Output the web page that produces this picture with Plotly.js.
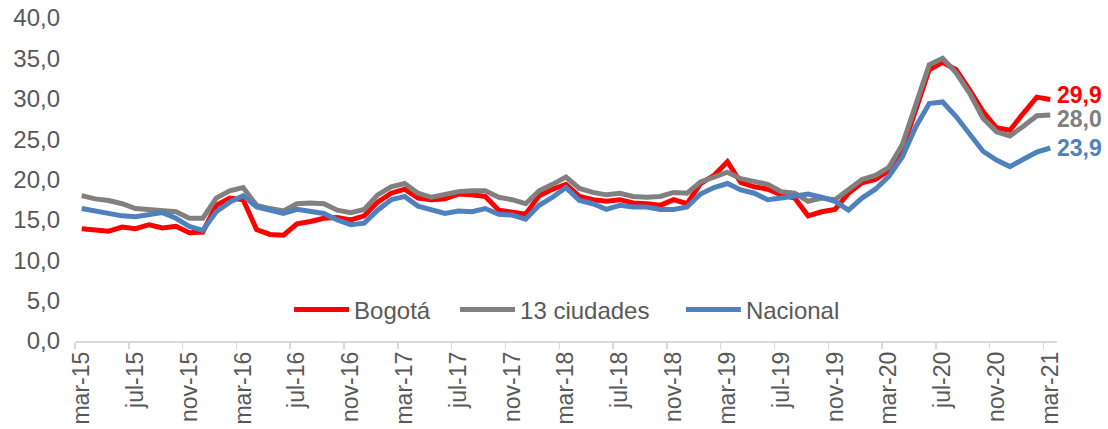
<!DOCTYPE html>
<html>
<head>
<meta charset="utf-8">
<script src="https://cdn.plot.ly/plotly-3.0.1.min.js"></script>
<style>html,body{margin:0;padding:0;background:#fff;}#chart{width:1108px;height:429px;}</style>
</head>
<body>
<div id="chart"></div>
<script>
const months = [
 "mar-15","abr-15","may-15","jun-15","jul-15","ago-15","sep-15","oct-15","nov-15","dic-15",
 "ene-16","feb-16","mar-16","abr-16","may-16","jun-16","jul-16","ago-16","sep-16","oct-16","nov-16","dic-16",
 "ene-17","feb-17","mar-17","abr-17","may-17","jun-17","jul-17","ago-17","sep-17","oct-17","nov-17","dic-17",
 "ene-18","feb-18","mar-18","abr-18","may-18","jun-18","jul-18","ago-18","sep-18","oct-18","nov-18","dic-18",
 "ene-19","feb-19","mar-19","abr-19","may-19","jun-19","jul-19","ago-19","sep-19","oct-19","nov-19","dic-19",
 "ene-20","feb-20","mar-20","abr-20","may-20","jun-20","jul-20","ago-20","sep-20","oct-20","nov-20","dic-20",
 "ene-21","feb-21","mar-21"
];

const bogota = [
 13.9,13.7,13.6,14.1,13.9,14.4,14.0,14.2,13.4,13.5,
 16.8,17.7,17.5,13.8,13.2,13.1,14.5,14.8,15.2,15.3,15.0,15.5,
 17.2,18.3,18.8,17.7,17.5,17.6,18.2,18.1,17.9,16.2,16.0,15.7,
 18.0,18.8,19.4,17.9,17.5,17.3,17.5,17.1,17.0,16.8,17.5,17.0,
 19.5,20.5,22.2,19.6,19.1,18.8,18.1,17.7,15.5,16.0,16.3,18.3,
 19.6,20.0,21.1,23.7,28.6,33.6,34.5,33.6,31.1,28.4,26.4,26.1,
 28.2,30.2,29.9
];

const ciudades13 = [
 18.0,17.6,17.4,17.0,16.4,16.3,16.1,16.0,15.2,15.2,
 17.7,18.6,19.0,16.8,16.4,16.1,17.0,17.1,17.0,16.2,15.9,16.3,
 18.1,19.1,19.5,18.3,17.8,18.1,18.5,18.6,18.6,17.8,17.5,17.0,
 18.6,19.4,20.3,18.9,18.4,18.1,18.3,17.9,17.8,17.9,18.4,18.3,
 19.7,20.3,20.9,20.1,19.7,19.4,18.5,18.3,17.3,17.7,17.5,18.7,
 20.0,20.5,21.5,24.3,29.2,34.2,35.0,33.2,30.7,27.6,25.9,25.4,
 26.6,27.9,28.0
];

const nacional = [
 16.4,16.1,15.8,15.5,15.4,15.6,15.9,15.2,14.2,13.7,
 16.0,17.2,18.0,16.6,16.2,15.8,16.3,16.1,15.8,15.0,14.4,14.6,
 16.2,17.5,17.9,16.7,16.2,15.8,16.1,16.0,16.4,15.7,15.6,15.1,
 16.8,17.8,19.0,17.4,17.0,16.3,16.8,16.6,16.6,16.3,16.3,16.6,
 18.2,19.0,19.5,18.7,18.3,17.5,17.7,17.9,18.2,17.8,17.3,16.2,
 17.7,18.8,20.4,22.8,26.5,29.4,29.6,27.8,25.7,23.5,22.4,21.6,
 22.5,23.4,23.9
];

const seriesNames = ["Bogotá", "13 ciudades", "Nacional"];
const seriesColors = ["#FF0000", "#808080", "#4F81BD"];
const seriesData = [bogota, ciudades13, nacional];
const legendIds = ["legend", "legend2", "legend3"];
const legendX = [0.218, 0.387, 0.617];
const labelShift = [5, -4, 0];

const FONT = "Liberation Sans, Arial, sans-serif";
const TEXT = "#595959";

const traces = seriesData.map((d, k) => ({
  type: "scatter",
  mode: "lines",
  name: seriesNames[k],
  legend: legendIds[k],
  x: months,
  y: d,
  line: {color: seriesColors[k], width: 5},
  hoverinfo: "skip"
}));

const annotations = seriesData.map((d, k) => ({
  x: months[months.length - 1],
  y: d[d.length - 1],
  xref: "x", yref: "y",
  text: "<b>" + d[d.length - 1].toFixed(1).replace(".", ",") + "</b>",
  showarrow: false,
  xanchor: "left",
  yanchor: "middle",
  xshift: 5,
  yshift: labelShift[k],
  font: {family: FONT, size: 23, color: seriesColors[k]}
}));

const legendBase = {
  orientation: "h",
  xanchor: "left",
  y: 0.096, yanchor: "middle",
  font: {family: FONT, size: 24, color: TEXT},
  bgcolor: "rgba(0,0,0,0)",
  itemwidth: 55
};

const layout = {
  width: 1108,
  height: 429,
  margin: {l: 75, r: 51, t: 18, b: 88},
  paper_bgcolor: "#ffffff",
  plot_bgcolor: "#ffffff",
  separators: ",.",
  showlegend: true,
  legend: Object.assign({}, legendBase, {x: legendX[0]}),
  legend2: Object.assign({}, legendBase, {x: legendX[1]}),
  legend3: Object.assign({}, legendBase, {x: legendX[2]}),
  xaxis: {
    type: "category",
    range: [-0.5, months.length - 0.5],
    dtick: 4,
    tickson: "boundaries",
    ticks: "outside",
    ticklen: 6,
    tickcolor: "#D9D9D9",
    tickwidth: 1.5,
    showline: true,
    linecolor: "#D9D9D9",
    linewidth: 1.5,
    showgrid: false,
    zeroline: false,
    tickangle: -90,
    tickfont: {family: FONT, size: 23, color: TEXT},
    fixedrange: true
  },
  yaxis: {
    range: [0, 40],
    dtick: 5,
    tick0: 0,
    tickformat: ".1f",
    showgrid: false,
    zeroline: false,
    showline: false,
    ticks: "",
    ticklabelstandoff: 14,
    tickfont: {family: FONT, size: 24, color: TEXT},
    fixedrange: true
  },
  annotations: annotations,
  hovermode: false
};

Plotly.newPlot("chart", traces, layout, {displayModeBar: false, staticPlot: true});
</script>
</body>
</html>
